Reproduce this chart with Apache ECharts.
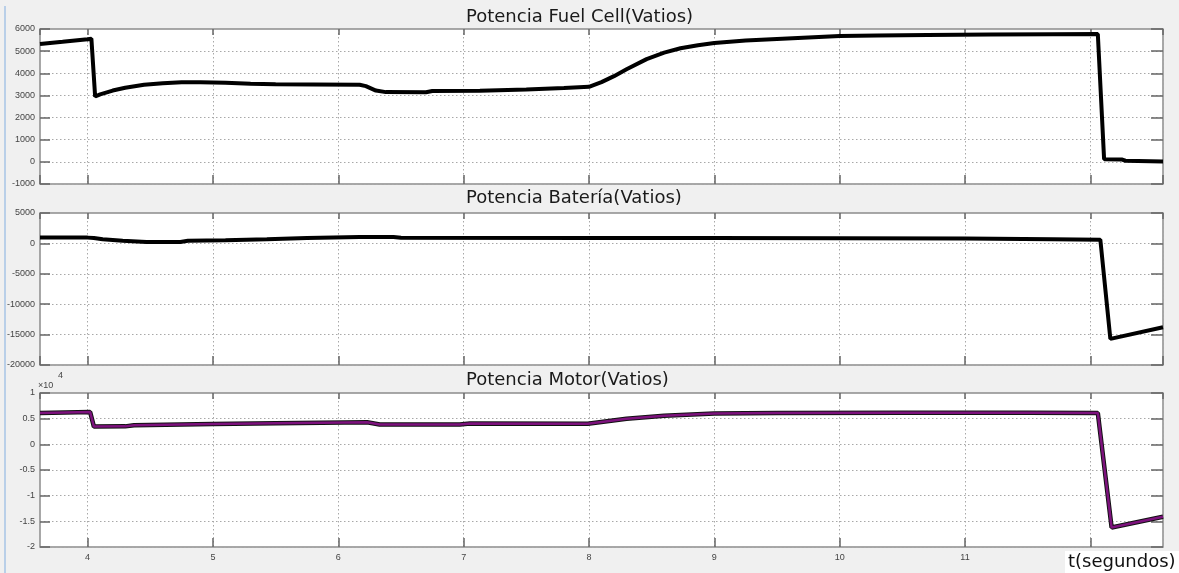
<!DOCTYPE html>
<html>
<head>
<meta charset="utf-8">
<script src="https://cdn.jsdelivr.net/npm/echarts@6/dist/echarts.min.js"></script>
<style>
html, body { margin: 0; padding: 0; background: #f0f0f0; }
#chart { width: 1179px; height: 573px; }
</style>
</head>
<body>
<div id="chart"></div>
<script>
// tiempo (s) y potencia (W) de cada señal
const tRange = [3.62, 12.58];

const tFuel = [3.62, 3.8, 4.0, 4.03, 4.06, 4.1, 4.2, 4.3, 4.45, 4.6, 4.75, 4.9, 5.1, 5.3, 5.5, 5.8, 6.17, 6.22, 6.3, 6.38, 6.7, 6.75, 7.13, 7.5, 7.8, 8.0, 8.1, 8.2, 8.3, 8.46, 8.6, 8.73, 8.87, 9.0, 9.25, 9.5, 10.0, 10.3, 10.7, 11.2, 11.7, 12.06, 12.11, 12.25, 12.28, 12.58];
const pFuel = [5320, 5420, 5540, 5560, 2950, 3050, 3220, 3350, 3480, 3550, 3590, 3600, 3570, 3530, 3500, 3490, 3480, 3420, 3220, 3150, 3140, 3200, 3210, 3270, 3340, 3390, 3600, 3870, 4180, 4640, 4930, 5130, 5270, 5370, 5480, 5550, 5680, 5710, 5730, 5750, 5760, 5770, 120, 110, 50, 20];

const tBat = [3.62, 4.0, 4.05, 4.12, 4.28, 4.47, 4.74, 4.8, 5.1, 5.43, 5.75, 6.17, 6.44, 6.5, 8.0, 9.0, 10.0, 11.0, 11.7, 12.08, 12.16, 12.58];
const pBat = [950, 950, 900, 670, 440, 230, 230, 440, 520, 700, 900, 1050, 1050, 920, 900, 880, 850, 800, 700, 620, -15700, -13800];

const tMotor = [3.62, 4.02, 4.05, 4.3, 4.37, 5.0, 5.5, 6.23, 6.33, 6.97, 7.05, 7.99, 8.3, 8.6, 9.0, 9.5, 10.5, 11.5, 12.06, 12.17, 12.58];
const pMotor = [6100, 6300, 3450, 3500, 3700, 3950, 4100, 4300, 3850, 3850, 4050, 4000, 5000, 5550, 6000, 6100, 6150, 6150, 6100, -16200, -14100];

const titles = ['Potencia Fuel Cell(Vatios)', 'Potencia Batería(Vatios)', 'Potencia Motor(Vatios)'];
const xLabel = 't(segundos)';

// [min, max, interval] de cada eje vertical
const yScales = [[-1000, 6000, 1000], [-20000, 5000, 5000], [-20000, 10000, 5000]];

const panels = [
    { top: 29, height: 155, titleY: 17 },
    { top: 213, height: 152, titleY: 198 },
    { top: 393, height: 154, titleY: 380 }
];

const zip = (ts, vs) => ts.map((t, i) => [t, vs[i]]);

const chart = echarts.init(document.getElementById('chart'));

const grids = [], xAxes = [], yAxes = [], graphics = [];
const dotted = { show: true, lineStyle: { type: [1.5, 2.5], color: '#a8a8a8', width: 1 } };
const tickStyle = { color: '#666', width: 1.5 };

panels.forEach((p, i) => {
    grids.push({
        left: 40, right: 16, top: p.top, height: p.height,
        show: true, backgroundColor: '#fff', borderColor: '#8c8c8c', borderWidth: 1.5
    });
    const xBase = {
        gridIndex: i, type: 'value', min: tRange[0], max: tRange[1],
        minInterval: 1, maxInterval: 1, splitNumber: 9,
        axisLine: { show: false, onZero: false }
    };
    xAxes.push(Object.assign({}, xBase, {
        position: 'bottom',
        axisTick: { inside: true, length: 9, lineStyle: tickStyle },
        axisLabel: {
            show: i === 2, showMinLabel: false, showMaxLabel: false, margin: 6,
            fontSize: 9, color: '#444', fontFamily: 'Liberation Sans'
        },
        splitLine: dotted
    }));
    xAxes.push(Object.assign({}, xBase, {
        position: 'top',
        axisTick: { inside: true, length: 6, lineStyle: tickStyle },
        axisLabel: { show: false },
        splitLine: { show: false }
    }));

    const [mn, mx, step] = yScales[i];
    const yBase = { gridIndex: i, type: 'value', min: mn, max: mx, interval: step, axisLine: { show: false, onZero: false } };
    yAxes.push(Object.assign({}, yBase, {
        position: 'left',
        axisTick: { inside: true, length: 10, lineStyle: tickStyle },
        axisLabel: {
            margin: 5, fontSize: 9, color: '#444', fontFamily: 'Liberation Sans',
            formatter: i === 2 ? (v => String(v / 10000)) : (v => String(v))
        },
        splitLine: dotted
    }));
    yAxes.push(Object.assign({}, yBase, {
        position: 'right',
        axisTick: { inside: true, length: 12, lineStyle: tickStyle },
        axisLabel: { show: false },
        splitLine: { show: false }
    }));

    graphics.push({
        type: 'text', x: 466, y: p.titleY, z: 100,
        style: { text: titles[i], fontSize: 18, fontFamily: 'DejaVu Sans', fill: '#1a1a1a', verticalAlign: 'middle' }
    });
});

graphics.push(
    { type: 'rect', z: 100, shape: { x: 4, y: 6, width: 2, height: 567 }, style: { fill: '#b9cfe8' } },
    { type: 'rect', z: 100, shape: { x: 1065, y: 551, width: 114, height: 22 }, style: { fill: '#fff' } },
    { type: 'text', z: 101, x: 1068, y: 562, style: { text: xLabel, fontSize: 18, fontFamily: 'DejaVu Sans', fill: '#111', verticalAlign: 'middle' } },
    { type: 'text', z: 100, x: 38, y: 386, style: { text: '×10', fontSize: 9, fontFamily: 'Liberation Sans', fill: '#444', verticalAlign: 'middle' } },
    { type: 'text', z: 100, x: 58, y: 376, style: { text: '4', fontSize: 9, fontFamily: 'Liberation Sans', fill: '#444', verticalAlign: 'middle' } }
);

const lineSeries = (data, idx, color, width, z) => ({
    type: 'line', data: data, xAxisIndex: idx * 2, yAxisIndex: idx * 2,
    showSymbol: false, smooth: false, z: z,
    lineStyle: { color: color, width: width }
});

chart.setOption({
    animation: false,
    backgroundColor: '#f0f0f0',
    grid: grids,
    xAxis: xAxes,
    yAxis: yAxes,
    graphic: graphics,
    series: [
        lineSeries(zip(tFuel, pFuel), 0, '#000', 4, 3),
        lineSeries(zip(tBat, pBat), 1, '#000', 4, 3),
        lineSeries(zip(tMotor, pMotor), 2, '#111', 4.5, 3),
        lineSeries(zip(tMotor, pMotor), 2, '#7d127d', 2.5, 4)
    ]
});
</script>
</body>
</html>
